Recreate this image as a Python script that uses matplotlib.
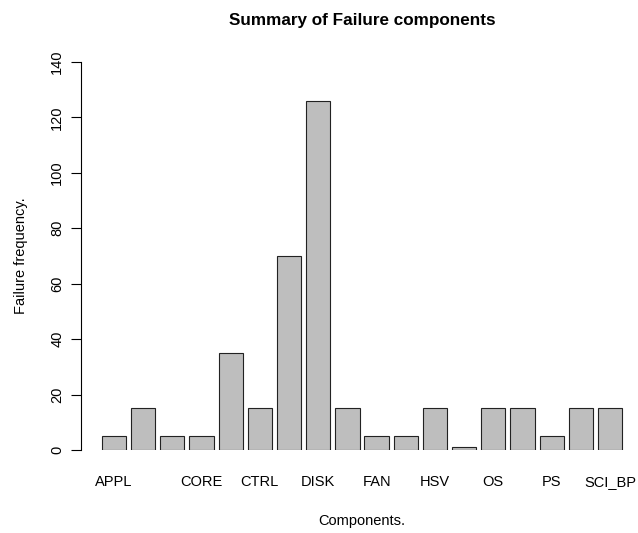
import matplotlib
matplotlib.use("Agg")
import matplotlib.pyplot as plt
import numpy as np

# failure counts per component (only non-overlapping names get printed)
components = ["APPL", "", "", "CORE", "", "CTRL", "", "DISK", "",
              "FAN", "", "HSV", "", "OS", "", "PS", "", "SCI_BP"]
failures = [5, 15, 5, 5, 35, 15, 70, 126, 15, 5, 5, 15, 1, 15, 15, 5, 15, 15]
yticks = [0, 20, 40, 60, 80, 100, 120, 140]

plt.rcParams["font.family"] = ["Liberation Sans", "DejaVu Sans"]

W, H = 638, 533
fig = plt.figure(figsize=(W / 100, H / 100), dpi=100)

# bar layout like R's barplot: width 1, space 0.2
n = len(failures)
left = 0.2 + 1.2 * np.arange(n)
centers = left + 0.5
x0, x1 = 0.2, left[-1] + 1.0
ext = 0.04 * (x1 - x0)

# plot region in pixels
px_left, px_right = 81, 643
px_top, px_bottom = 62, 450
ax = fig.add_axes([px_left / W, 1 - px_bottom / H,
                   (px_right - px_left) / W, (px_bottom - px_top) / H])

ax.bar(centers, failures, width=1.0, color="#BEBEBE",
       edgecolor="#222222", linewidth=0.8)

ax.set_xlim(x0 - ext, x1 + ext)
ax.set_ylim(0, 140)

for s in ["top", "right", "bottom"]:
    ax.spines[s].set_visible(False)
ax.spines["left"].set_linewidth(0.8)

ax.set_yticks(yticks)
ax.set_yticklabels([str(v) for v in yticks], rotation=90, va="center")
ax.tick_params(axis="y", length=7, width=0.8, pad=5, labelsize=10.5)

ax.set_xticks(centers)
ax.set_xticklabels(components)
ax.tick_params(axis="x", length=0, pad=18, labelsize=10.5)

fig.text((px_left + px_right) / 2 / W, 1 - 20 / H,
         "Summary of Failure components", ha="center", va="center",
         fontsize=12.3, fontweight="bold")
fig.text((px_left + px_right) / 2 / W, 1 - 521 / H, "Components.",
         ha="center", va="center", fontsize=10.5)
fig.text(21 / W, 1 - 256 / H, "Failure frequency.", ha="center",
         va="center", rotation=90, fontsize=10.5)

fig.savefig("out.png", dpi=100)
